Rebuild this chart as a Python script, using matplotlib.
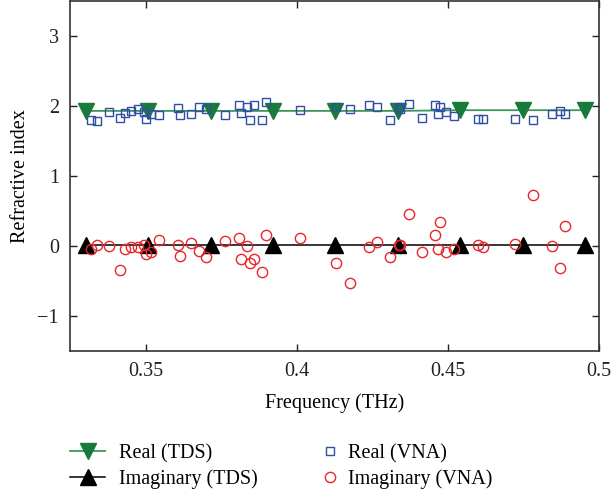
import matplotlib
matplotlib.use("Agg")
import matplotlib.pyplot as plt
from matplotlib.lines import Line2D

# ---- data ----
freq_tds = [0.3302, 0.3509, 0.3715, 0.3922, 0.4128, 0.4334, 0.4541, 0.4747, 0.4954]
real_tds = [1.93, 1.93, 1.93, 1.93, 1.93, 1.93, 1.94, 1.94, 1.94]
imag_tds = [0.02, 0.02, 0.02, 0.02, 0.02, 0.02, 0.02, 0.02, 0.02]

freq_vna = [0.3318, 0.3338, 0.3380, 0.3415, 0.3432, 0.3452, 0.3475, 0.3494, 0.3500, 0.3519,
            0.3543, 0.3606, 0.3615, 0.3649, 0.3676, 0.3701, 0.3763, 0.3808, 0.3816, 0.3835,
            0.3844, 0.3860, 0.3886, 0.3897, 0.4010, 0.4131, 0.4176, 0.4239, 0.4264, 0.4309,
            0.4337, 0.4342, 0.4370, 0.4414, 0.4458, 0.4467, 0.4475, 0.4494, 0.4519, 0.4600,
            0.4616, 0.4722, 0.4783, 0.4845, 0.4871, 0.4889]
real_vna = [1.80, 1.79, 1.92, 1.83, 1.90, 1.93, 1.95, 1.92, 1.82, 1.89,
            1.87, 1.97, 1.87, 1.89, 1.99, 1.95, 1.87, 2.01, 1.90, 1.99,
            1.80, 2.01, 1.80, 2.05, 1.94, 1.99, 1.95, 2.02, 1.98, 1.80,
            1.98, 1.96, 2.03, 1.83, 2.02, 1.89, 1.99, 1.92, 1.86, 1.82,
            1.82, 1.81, 1.80, 1.89, 1.93, 1.89]
imag_vna = [-0.04, 0.01, 0.00, -0.35, -0.04, -0.02, -0.01, 0.01, -0.11, -0.08,
            0.08, 0.02, -0.15, 0.04, -0.07, -0.16, 0.07, 0.11, -0.19, 0.00,
            -0.25, -0.19, -0.37, 0.16, 0.11, -0.24, -0.53, -0.02, 0.06, -0.16,
            0.01, 0.02, 0.46, -0.09, 0.16, -0.05, 0.34, -0.08, -0.04, 0.01,
            -0.02, 0.03, 0.73, 0.00, -0.31, 0.28]

x_ticks = [0.35, 0.40, 0.45, 0.50]
x_tick_labels = ["0.35", "0.4", "0.45", "0.5"]
y_ticks = [-1, 0, 1, 2, 3]
y_tick_labels = ["\u22121", "0", "1", "2", "3"]

plt.rcParams['font.family'] = ['Liberation Serif', 'DejaVu Serif']
FS = 14.5

fig = plt.figure(figsize=(6.12, 4.92), dpi=100)
ax = fig.add_axes([70/612, 1 - 351/492, 529/612, 350/492])

green_line = '#3f9656'
green = '#187a3b'
blue = '#2f4fa6'
red = '#e8262a'

ax.plot(freq_tds, real_tds, color=green_line, lw=1.3, marker='v', ms=12,
        mfc=green, mec=green, zorder=2)
ax.plot(freq_tds, imag_tds, color='black', lw=1.1, marker='^', ms=12,
        mfc='black', mec='black', zorder=2)
ax.plot(freq_vna, real_vna, ls='none', marker='s', ms=5.4, mfc='none',
        mec=blue, mew=1.0, zorder=3)
ax.plot(freq_vna, imag_vna, ls='none', marker='o', ms=7.4, mfc='none',
        mec=red, mew=1.0, zorder=3)

ax.set_xlim(0.325, 0.5)
ax.set_ylim(-1.5, 3.5)
ax.set_xticks(x_ticks)
ax.set_xticklabels(x_tick_labels)
ax.set_yticks(y_ticks)
ax.set_yticklabels(y_tick_labels)
ax.tick_params(direction='in', length=5, width=1, top=True, right=True,
               labelsize=FS, colors='#222222', pad=8)
for s in ax.spines.values():
    s.set_color('#333333')
    s.set_linewidth(1.2)

ax.set_xlabel("Frequency (THz)", fontsize=FS, labelpad=9)
ax.set_ylabel("Refractive index", fontsize=FS, labelpad=5)

# legends
h1 = Line2D([], [], color=green_line, lw=1.3, marker='v', ms=12, mfc=green, mec=green)
h2 = Line2D([], [], color='black', lw=1.1, marker='^', ms=12, mfc='black', mec='black')
h3 = Line2D([], [], ls='none', marker='s', ms=5.4, mfc='none', mec=blue, mew=1.0)
h4 = Line2D([], [], ls='none', marker='o', ms=7.4, mfc='none', mec=red, mew=1.0)

leg1 = fig.legend([h1, h2], ["Real (TDS)", "Imaginary (TDS)"], loc='upper left',
                  bbox_to_anchor=(70/612, 1 - 444/492), frameon=False, fontsize=FS,
                  handlelength=1.75, handletextpad=0.7, labelspacing=0.3,
                  borderaxespad=0, borderpad=0)
leg2 = fig.legend([h3, h4], ["Real (VNA)", "Imaginary (VNA)"], loc='upper left',
                  bbox_to_anchor=(318/612, 1 - 444/492), frameon=False, fontsize=FS,
                  handlelength=1.2, handletextpad=0.3, labelspacing=0.3,
                  borderaxespad=0, borderpad=0)

fig.savefig("out.png", dpi=100)
